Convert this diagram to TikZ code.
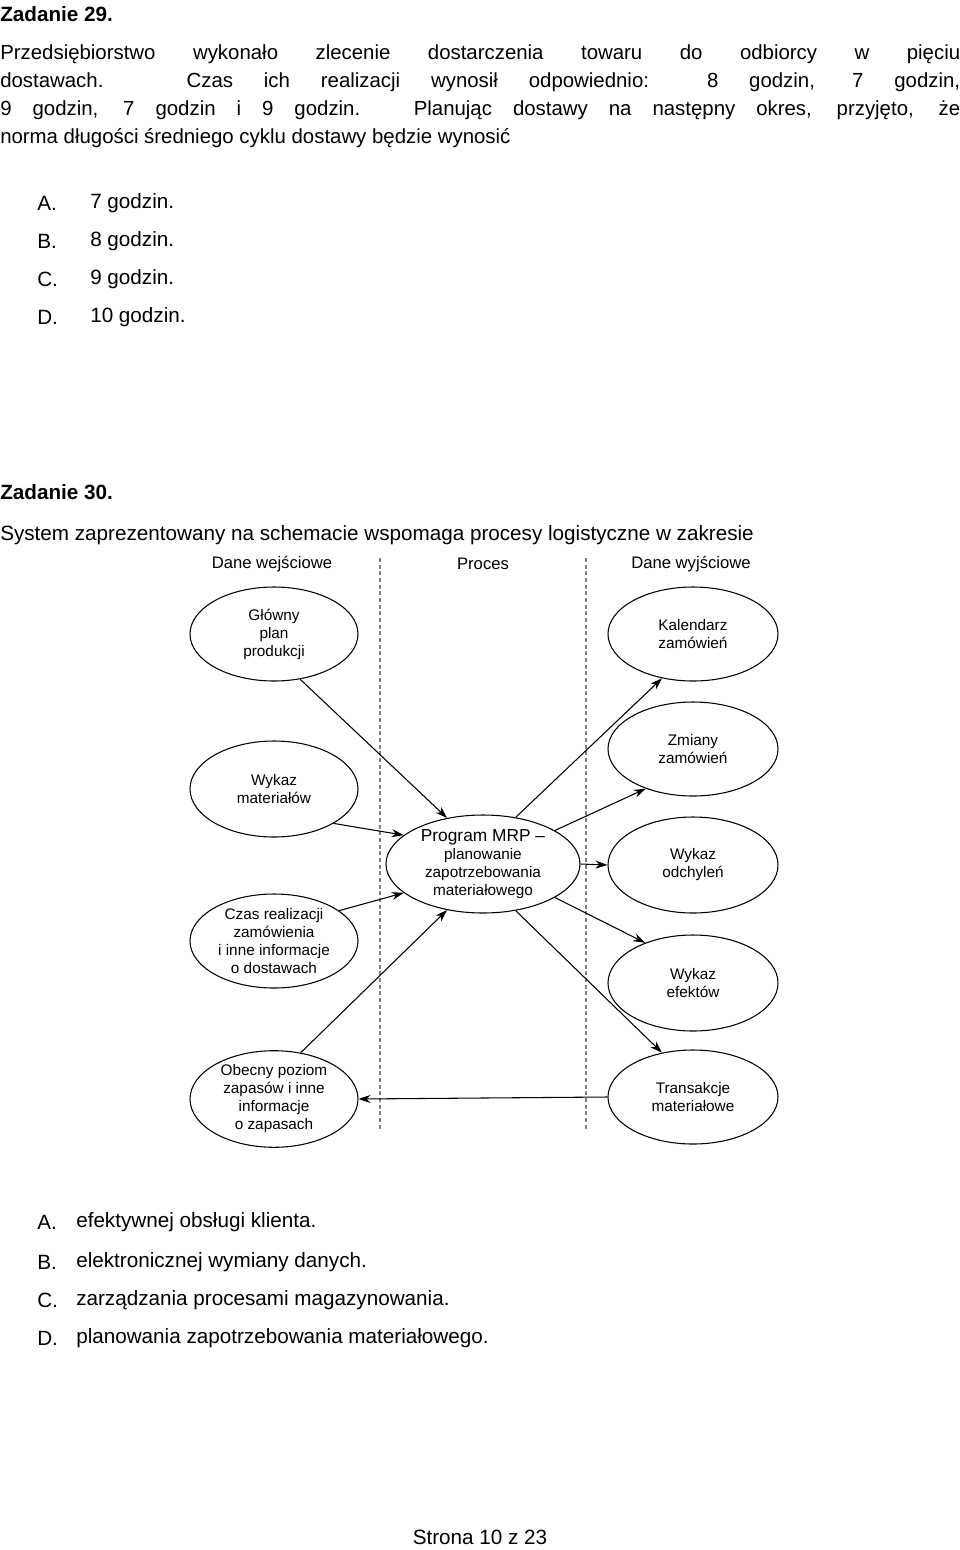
\documentclass[tikz,border=0pt]{standalone}
\usepackage{fontspec}
\setmainfont{Liberation Sans}
\usetikzlibrary{arrows.meta,shapes.geometric}

\begin{document}
\begin{tikzpicture}[x=0.75pt,y=-0.75pt,
    txt/.style={anchor=west,inner sep=0pt,font=\fontsize{15.5}{19}\selectfont},
    oval/.style={draw,thick,ellipse,minimum width=#1,align=center,inner sep=0pt,
      font=\fontsize{11.5}{13.5}\selectfont},
    flow/.style={thick,-{Stealth[length=9pt,width=6pt]}}]
  \useasboundingbox (0,0) rectangle (960,1550);
  % task 29
  \node[txt,font=\bfseries\fontsize{15.5}{19}\selectfont] (t29) at (0,14) {Zadanie 29.};
  \node[txt,anchor=north west,text width=960*0.75pt,align=justify,
        font=\fontsize{15.3}{21.2}\selectfont] (q29) at (0,44)
    {Przedsiębiorstwo wykonało zlecenie dostarczenia towaru do odbiorcy w pięciu\linebreak
     dostawach. Czas ich realizacji wynosił odpowiednio: 8 godzin, 7 godzin,\linebreak
     9 godzin, 7 godzin i 9 godzin. Planując dostawy na następny okres, przyjęto, że\linebreak
     norma długości średniego cyklu dostawy będzie wynosić};
  \foreach \l/\t/\y in {A./7 godzin./203, B./8 godzin./241, C./9 godzin./279, D./10 godzin./317}{
    \node[txt] (l\y) at (37,\y) {\l};
    \node[txt] (a\y) at (90,\y) {\t};
  }
  % task 30
  \node[txt,font=\bfseries\fontsize{15.5}{19}\selectfont] (t30) at (0,492) {Zadanie 30.};
  \node[txt] (q30) at (0,535) {System zaprezentowany na schemacie wspomaga procesy logistyczne w zakresie};
  % diagram
  \draw[gray,densely dashed,thick] (380,558) -- (380,1130);
  \draw[gray,densely dashed,thick] (586,558) -- (586,1130);
  \node[font=\fontsize{12.5}{14}\selectfont] (hin) at (272,564) {Dane wejściowe};
  \node[font=\fontsize{12.5}{14}\selectfont] (hpr) at (483,564) {Proces};
  \node[font=\fontsize{12.5}{14}\selectfont] (hout) at (691,564) {Dane wyjściowe};
  \node[oval=168*0.75pt,minimum height=94*0.75pt] (plan) at (274,634) {Główny\\plan\\produkcji};
  \node[oval=168*0.75pt,minimum height=96*0.75pt] (mat) at (274,789) {Wykaz\\materiałów};
  \node[oval=168*0.75pt,minimum height=94*0.75pt] (czas) at (274,941) {Czas realizacji\\zamówienia\\i inne informacje\\o dostawach};
  \node[oval=168*0.75pt,minimum height=92*0.75pt] (zap) at (274,1099) {Obecny poziom\\zapasów i inne\\informacje\\o zapasach};
  \node[oval=194*0.75pt,minimum height=98*0.75pt] (mrp) at (483,864) {\fontsize{13}{14}\selectfont Program MRP --\\planowanie\\zapotrzebowania\\materiałowego};
  \node[oval=170*0.75pt,minimum height=94*0.75pt] (kal) at (693,634) {Kalendarz\\zamówień};
  \node[oval=170*0.75pt,minimum height=94*0.75pt] (zmi) at (693,749) {Zmiany\\zamówień};
  \node[oval=170*0.75pt,minimum height=96*0.75pt] (odc) at (693,865) {Wykaz\\odchyleń};
  \node[oval=170*0.75pt,minimum height=96*0.75pt] (efe) at (693,983) {Wykaz\\efektów};
  \node[oval=170*0.75pt,minimum height=94*0.75pt] (tra) at (693,1097) {Transakcje\\materiałowe};
  \draw[flow] (plan.-60) -- (mrp.128);
  \draw[flow] (mat.-30) -- (mrp.160);
  \draw[flow] (czas.25) -- (mrp.-160);
  \draw[flow] (zap.60) -- (mrp.-128);
  \draw[flow] (mrp.55) -- (kal.-125);
  \draw[flow] (mrp.25) -- (zmi.-140);
  \draw[flow] (mrp.0) -- (odc.180);
  \draw[flow] (mrp.-25) -- (efe.140);
  \draw[flow] (mrp.-55) -- (tra.125);
  \draw[flow] (tra.180) -- (zap.0);
  % answers
  \foreach \l/\t/\y in {A./efektywnej obsługi klienta./1222, B./elektronicznej wymiany danych./1262,
      C./zarządzania procesami magazynowania./1300, D./planowania zapotrzebowania materiałowego./1338}{
    \node[txt] (m\y) at (37,\y) {\l};
    \node[txt] (b\y) at (76,\y) {\t};
  }
  \node[txt,anchor=center] (foot) at (480,1537) {Strona 10 z 23};
\end{tikzpicture}
\end{document}
